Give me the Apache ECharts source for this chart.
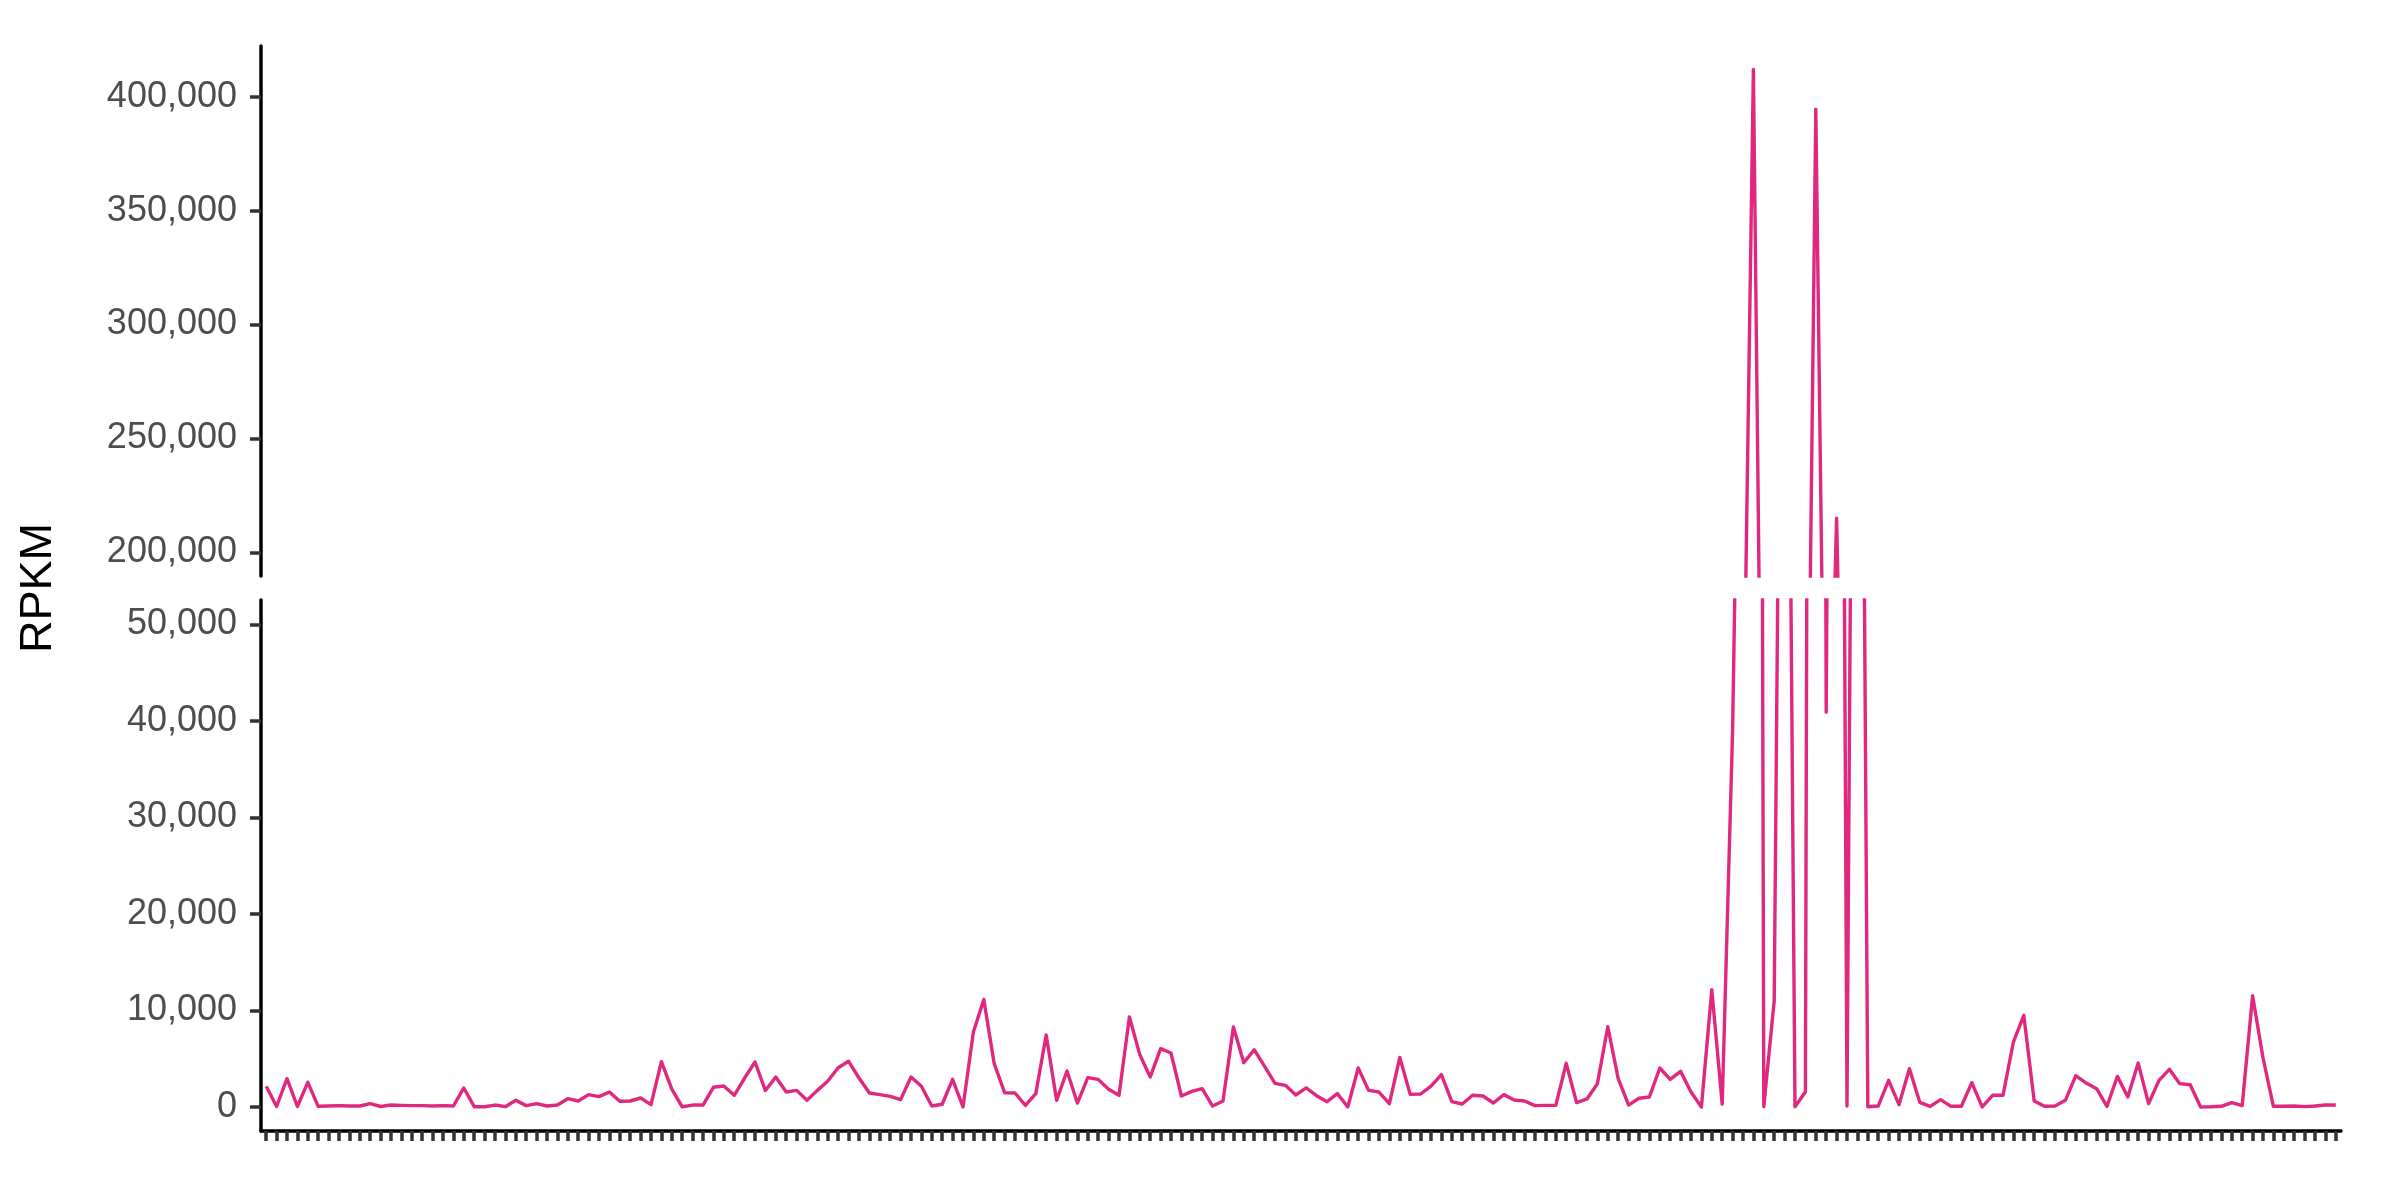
<!DOCTYPE html>
<html>
<head>
<meta charset="utf-8">
<style>
  html, body { margin: 0; padding: 0; background: #fff; }
  #chart { width: 2400px; height: 1200px; }
</style>
<script src="https://cdn.jsdelivr.net/npm/echarts@6/dist/echarts.min.js"></script>
</head>
<body>
<div id="chart"></div>
<script>
// RPKM values per position
const rpkm = [
  2140, 50, 2930, 50, 2550, 70, 100, 140, 100, 100,
  345, 50, 200, 170, 140, 140, 100, 140, 100, 1970,
  30, 20, 200, 30, 690, 140, 345, 100, 200, 860,
  620, 1280, 1070, 1550, 590, 620, 930, 240, 4690, 1860,
  20, 200, 200, 2040, 2170, 1210, 3000, 4660, 1700, 3100,
  1550, 1720, 690, 1720, 2690, 4070, 4730, 3000, 1450, 1280,
  1100, 760, 3100, 2140, 100, 280, 2860, 0, 7760, 11140,
  4490, 1480, 1450, 170, 1380, 7450, 690, 3730, 410, 3040,
  2860, 1830, 1210, 9320, 5420, 3100, 6040, 5590, 1140, 1620,
  1900, 100, 620, 8280, 4590, 5930, 4210, 2450, 2240, 1240,
  1970, 1170, 550, 1380, 0, 4040, 1720, 1550, 345, 5140,
  1310, 1345, 2170, 3350, 550, 310, 1210, 1140, 410, 1280,
  720, 620, 140, 170, 170, 4520, 450, 830, 2415, 8310,
  2930, 200, 900, 1035, 4040, 2860, 3690, 1550, 0, 12140,
  310, 39000, 105000, 412000, 50, 11000, 135000, 30, 1550, 394500,
  40900, 215000, 100, 165000, 30, 100, 2760, 240, 3970, 480,
  70, 760, 70, 70, 2520, 0, 1210, 1210, 6730, 9490,
  620, 70, 100, 690, 3240, 2480, 1900, 70, 3170, 1035,
  4550, 345, 2760, 3900, 2415, 2310, 0, 20, 70, 450,
  140, 11520, 5100, 70, 70, 100, 40, 100, 200, 200
];
// category positions (labels are not shown in the picture)
const categories = rpkm.map((v, i) => String(i + 1));
// tick labels
const topTicks = [200000, 250000, 300000, 350000, 400000];
const bottomTicks = [0, 10000, 20000, 30000, 40000, 50000];

const FONT = '"Liberation Sans", Arial, Helvetica, sans-serif';
const fmt = v => Number(v).toLocaleString('en-US');
const lineColor = '#E0287F';

function yAxisCfg(grid, min, max, ticks) {
  return {
    gridIndex: grid, type: 'value', min: min, max: max,
    axisLine: { show: true, lineStyle: { color: '#000', width: 3.5 } },
    axisTick: { show: true, length: 11, customValues: ticks, lineStyle: { color: '#333', width: 3.5 } },
    axisLabel: { customValues: ticks, formatter: fmt, fontSize: 36, color: '#4D4D4D', margin: 24, fontFamily: FONT },
    splitLine: { show: false }
  };
}

const chart = echarts.init(document.getElementById('chart'), null, { renderer: 'canvas' });
chart.setOption({
  animation: false,
  backgroundColor: '#fff',
  grid: [
    { left: 261, top: 46, width: 2080, height: 530 },
    { left: 261, top: 600, width: 2080, height: 531 }
  ],
  xAxis: [
    { gridIndex: 0, type: 'category', data: categories, boundaryGap: true,
      axisLine: { show: false }, axisTick: { show: false }, axisLabel: { show: false }, splitLine: { show: false } },
    { gridIndex: 1, type: 'category', data: categories, boundaryGap: true,
      axisLine: { show: true, onZero: false, lineStyle: { color: '#000', width: 3.5 } },
      axisTick: { show: true, alignWithLabel: true, interval: 0, length: 10, lineStyle: { color: '#333', width: 3.5 } },
      axisLabel: { show: false }, splitLine: { show: false } }
  ],
  yAxis: [
    yAxisCfg(0, 189600, 422260, topTicks),
    yAxisCfg(1, -2488, 52519, bottomTicks)
  ],
  series: [0, 1].map(g => ({
    type: 'line', xAxisIndex: g, yAxisIndex: g, data: rpkm,
    showSymbol: false, symbol: 'none', clip: true,
    lineStyle: { color: lineColor, width: 3.4, join: 'round' }
  })),
  graphic: [{
    type: 'text', x: 39, y: 588, rotation: Math.PI / 2,
    style: { text: 'RPKM', fontSize: 45, fontFamily: FONT, fill: '#000', align: 'center', verticalAlign: 'middle' }
  }]
});
</script>
</body>
</html>
